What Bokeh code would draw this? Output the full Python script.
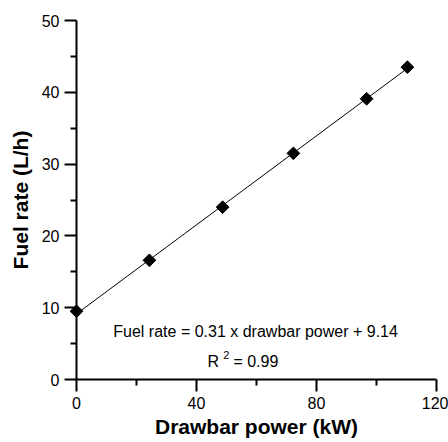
import math

from bokeh.core.properties import value
from bokeh.embed import file_html
from bokeh.models import FixedTicker, Label, Range1d
from bokeh.plotting import figure
from bokeh.resources import INLINE

# Measured drawbar power (kW) and fuel rate (L/h)
power_kw = [0, 24.3, 48.7, 72.3, 96.7, 110.3]
fuel_lph = [9.5, 16.6, 24.0, 31.5, 39.1, 43.5]

# Linear regression of fuel rate on drawbar power
slope = 0.31
intercept = 9.14
r_squared = 0.99

x_ticks = [0, 40, 80, 120]
x_minor = [20, 60, 100]
y_ticks = [0, 10, 20, 30, 40, 50]
y_minor = [5, 15, 25, 35, 45]

FONT = "Liberation Sans"

p = figure(
    width=448, height=442,
    output_backend="svg", toolbar_location=None,
    x_range=Range1d(0, 120), y_range=Range1d(0, 50),
    min_border_left=76, min_border_right=12,
    min_border_top=20, min_border_bottom=63,
)
p.outline_line_color = None
p.grid.visible = False
p.background_fill_color = "white"
p.border_fill_color = "white"

p.xaxis.ticker = FixedTicker(ticks=x_ticks, minor_ticks=x_minor)
p.yaxis.ticker = FixedTicker(ticks=y_ticks, minor_ticks=y_minor)
p.xaxis.axis_label = "Drawbar power (kW)"
p.yaxis.axis_label = "Fuel rate (L/h)"

for ax in (p.xaxis, p.yaxis):
    ax.axis_line_width = 2
    ax.axis_line_color = "black"
    ax.major_tick_line_width = 2
    ax.major_tick_line_color = "black"
    ax.minor_tick_line_width = 2
    ax.minor_tick_line_color = "black"
    ax.major_tick_in = 0
    ax.major_tick_out = 12
    ax.minor_tick_in = 0
    ax.minor_tick_out = 6
    ax.major_label_text_font = FONT
    ax.major_label_text_font_size = "16px"
    ax.major_label_text_color = "black"
    ax.axis_label_text_font = FONT
    ax.axis_label_text_font_size = "21px"
    ax.axis_label_text_font_style = "bold"
    ax.axis_label_text_color = "black"

p.xaxis.major_label_standoff = 5
p.yaxis.major_label_standoff = 5
p.xaxis.axis_label_standoff = 3
p.yaxis.axis_label_standoff = 7

# Regression line across the measured range
x_fit = [min(power_kw), max(power_kw)]
y_fit = [slope * x + intercept for x in x_fit]
p.line(x_fit, y_fit, line_color="black", line_width=1)

# Data points as diamonds, drawn above the frame so the one on the axis is not cut
p.scatter(power_kw, fuel_lph, marker="square", size=9, angle=math.pi / 4,
          fill_color="black", line_color="black", level="overlay")

eq_text = f"Fuel rate = {slope:.2f} x drawbar power + {intercept:.2f}"
p.add_layout(Label(x=59.7, y=6.67, text=eq_text, text_align="center",
                   text_baseline="alphabetic", text_font=FONT,
                   text_font_size="16px", text_color="black"))
p.add_layout(Label(x=43.7, y=2.5, text="R", text_align="left",
                   text_baseline="alphabetic", text_font=FONT,
                   text_font_size="16px", text_color="black"))
p.add_layout(Label(x=48.9, y=3.47, text="2", text_align="left",
                   text_baseline="alphabetic", text_font=FONT,
                   text_font_size="11px", text_color="black"))
p.add_layout(Label(x=52.3, y=2.5, text=f"= {r_squared:.2f}", text_align="left",
                   text_baseline="alphabetic", text_font=FONT,
                   text_font_size="16px", text_color="black"))

open("out.html", "w").write(file_html(p, INLINE))
